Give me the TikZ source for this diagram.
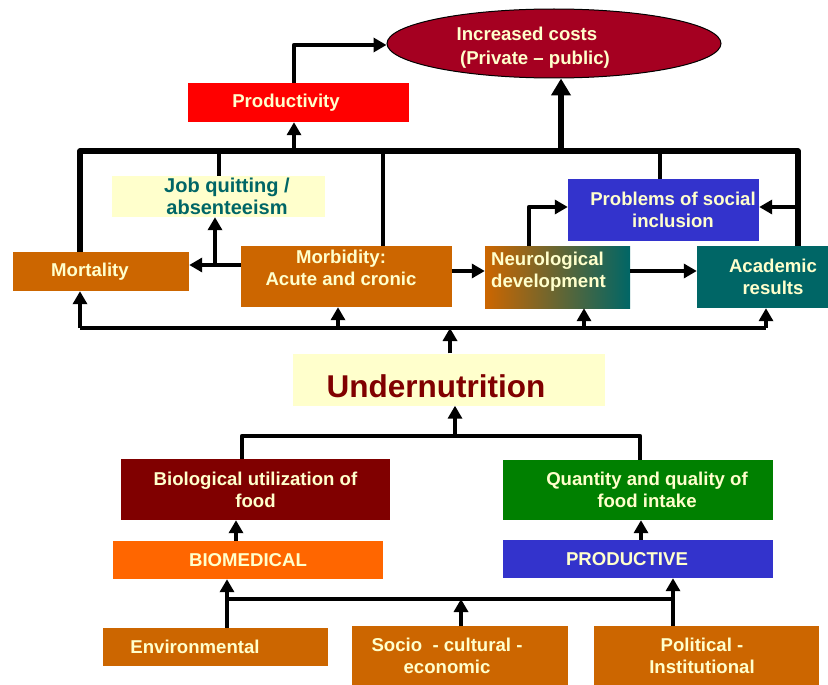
\documentclass[tikz,border=0pt]{standalone}
\usepackage{fontspec}
\setmainfont{Liberation Sans}
\usetikzlibrary{arrows.meta,shapes.geometric}
\definecolor{orng}{HTML}{CC6600}
\definecolor{bmed}{HTML}{FF6600}
\definecolor{tealc}{HTML}{006666}
\definecolor{bluec}{HTML}{3333CC}
\definecolor{maroonc}{HTML}{800000}
\definecolor{greenc}{HTML}{008000}
\definecolor{costc}{HTML}{A50021}
\definecolor{cream}{HTML}{FFFFCC}
\definecolor{paleyel}{HTML}{FFFFCC}
\begin{document}
\begin{tikzpicture}[x=1pt,y=-1pt,
  box/.style={inner sep=0pt, text=cream, align=center,
    font=\bfseries\fontsize{18.6}{21.7}\selectfont},
  conn/.style={line width=4.6pt, line join=round},
  arr/.style={conn, -{Triangle[length=13pt,width=14pt]}},
  busline/.style={line width=5.2pt, line join=round},
  bigarr/.style={line width=6pt, -{Triangle[length=17pt,width=19pt]}}]
\useasboundingbox (0,0) rectangle (828,685);

% ---- nodes ----
\node[box, ellipse, draw=black, line width=1pt, fill=costc, inner sep=-3pt,
  minimum width=334pt, minimum height=69pt]
  (cost) at (554,43.5) {\rule{0pt}{21.5pt}\hspace*{-54pt}Increased costs\\[2pt] \hspace*{-38pt}(Private – public)};
\node[box, fill=red, minimum width=221pt, minimum height=39pt] (prod) at (298.5,102.5) {\hspace*{-25pt}Productivity};
\node[box, fill=paleyel, text=tealc, font=\bfseries\fontsize{20}{21.7}\selectfont,
  minimum width=213pt, minimum height=41pt] (job) at (218.5,196.5)
  {\hspace*{17pt}Job quitting /\\ \hspace*{17pt}absenteeism};
\node[box, fill=orng, minimum width=176pt, minimum height=39pt] (mort) at (101,271.5) {\hspace*{-22pt}Mortality};
\node[box, fill=orng, minimum width=211pt, minimum height=61pt] (morb) at (346.5,276.5)
  {\hspace*{-11pt}Morbidity:\\ \hspace*{-11pt}Acute and cronic\rule[-18pt]{0pt}{0pt}};
\node[box, align=left, left color=orng, middle color=orng!62!tealc, right color=tealc,
  minimum width=145pt, minimum height=62pt] (neuro) at (557.5,277)
  {\hspace*{-18pt}Neurological\\ \hspace*{-18pt}development\rule[-14pt]{0pt}{0pt}};
\node[box, fill=tealc, minimum width=131pt, minimum height=62pt] (acad) at (762.5,277)
  {\hspace*{21pt}Academic\\ \hspace*{21pt}results};
\node[box, fill=bluec, minimum width=191pt, minimum height=62pt] (prob) at (663.5,210)
  {\hspace*{19pt}Problems of social\\ \hspace*{19pt}inclusion};
\node[box, fill=paleyel, text=maroonc, font=\bfseries\fontsize{31.5}{36}\selectfont,
  text height=36pt, text depth=0pt, minimum width=312pt, minimum height=52pt] (under) at (449,379.5)
  {\hspace*{-26pt}Undernutrition};
\node[box, fill=maroonc, minimum width=269pt, minimum height=61pt] (bio) at (255.5,489.5)
  {Biological utilization of\\ food};
\node[box, fill=greenc, minimum width=270pt, minimum height=60pt] (qty) at (638,490)
  {\hspace*{18pt}Quantity and quality of\\ \hspace*{18pt}food intake};
\node[box, fill=bmed, minimum width=270pt, minimum height=38pt] (biomed) at (248,560) {BIOMEDICAL};
\node[box, fill=bluec, minimum width=270pt, minimum height=38pt] (productive) at (638,559)
  {\hspace*{-22pt}PRODUCTIVE};
\node[box, fill=orng, minimum width=225pt, minimum height=38pt] (env) at (215.5,647)
  {\hspace*{-41pt}Environmental};
\node[box, fill=orng, minimum width=216pt, minimum height=59pt] (socio) at (460,655.5)
  {\hspace*{-26pt}Socio~ - cultural -\\ \hspace*{-26pt}economic};
\node[box, fill=orng, minimum width=225pt, minimum height=59pt] (pol) at (706.5,655.5)
  {\hspace*{-9pt}Political -\\ \hspace*{-9pt}Institutional};

% ---- helper coordinates ----
\coordinate (xA) at (80,0);
\coordinate (xJ) at (219,0);
\coordinate (xM) at (383,0);
\coordinate (xP) at (294,0);
\coordinate (xC) at (561,0);
\coordinate (xS) at (660,0);
\coordinate (xR) at (798,0);
\coordinate (xN) at (529,0);
\coordinate (xK) at (215,0);
\coordinate (xMb) at (338,0);
\coordinate (xNb) at (584,0);
\coordinate (xAb) at (766,0);
\coordinate (xU) at (450,0);
\coordinate (xB) at (242,0);
\coordinate (xQ) at (640,0);
\coordinate (xU2) at (455,0);
\coordinate (xB2) at (236,0);
\coordinate (xQ2) at (641,0);
\coordinate (xE) at (227,0);
\coordinate (xSo) at (461,0);
\coordinate (xPo) at (673,0);
\coordinate (tb) at (0,151);
\coordinate (yS) at (0,207);
\coordinate (yM) at (0,265);
\coordinate (yN) at (0,271);
\coordinate (bb) at (0,328);
\coordinate (ub) at (0,436);
\coordinate (lb) at (0,599);
\coordinate (yC) at (0,45);

% ---- top part ----
\draw[arr] (xP |- prod.north) -- (xP |- yC) -- (cost.west |- yC);
\draw[busline] (xA |- mort.north) -- (xA |- tb) -- (xR |- tb) -- (xR |- acad.north);
\draw[arr] (xP |- tb) -- (xP |- prod.south);
\draw[bigarr] (xC |- tb) -- (xC |- cost.south);
\draw[conn] (xJ |- tb) -- (xJ |- job.north);
\draw[conn] (xM |- tb) -- (xM |- morb.north);
\draw[conn] (xS |- tb) -- (xS |- prob.north);
\draw[arr] (xR |- yS) -- (prob.east |- yS);
\draw[arr] (morb.west |- yM) -- (mort.east |- yM);
\draw[arr] (xK |- yM) -- (xK |- job.south);
\draw[arr] (morb.east |- yN) -- (neuro.west |- yN);
\draw[arr] (neuro.east |- yN) -- (acad.west |- yN);
\draw[arr] (xN |- neuro.north) -- (xN |- yS) -- (prob.west |- yS);

% ---- bus below effects ----
\draw[conn] (xA |- bb) -- (xAb |- bb);
\draw[arr] (xA |- bb) -- (xA |- mort.south);
\draw[arr] (xMb |- bb) -- (xMb |- morb.south);
\draw[arr] (xNb |- bb) -- (xNb |- neuro.south);
\draw[arr] (xAb |- bb) -- (xAb |- acad.south);
\draw[arr] (xU |- under.north) -- (xU |- bb);

% ---- lower part ----
\draw[conn] (xB |- bio.north) -- (xB |- ub) -- (xQ |- ub) -- (xQ |- qty.north);
\draw[arr] (xU2 |- ub) -- (xU2 |- under.south);
\draw[arr] (xB2 |- biomed.north) -- (xB2 |- bio.south);
\draw[arr] (xQ2 |- productive.north) -- (xQ2 |- qty.south);
\draw[conn] (xE |- lb) -- (xPo |- lb);
\draw[arr] (xE |- env.north) -- (xE |- biomed.south);
\draw[arr] (xPo |- pol.north) -- (xPo |- productive.south);
\draw[arr] (xSo |- socio.north) -- (xSo |- lb);
\end{tikzpicture}
\end{document}
